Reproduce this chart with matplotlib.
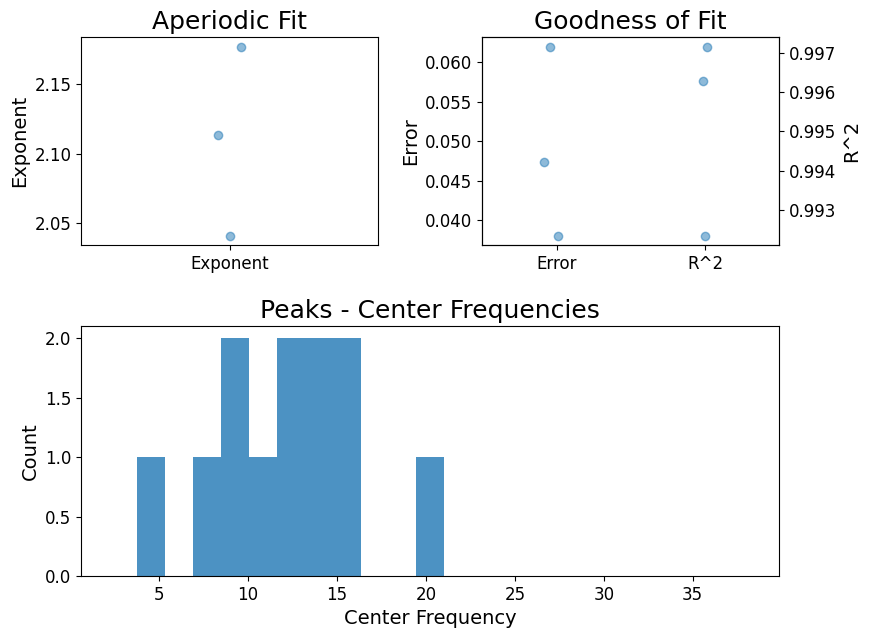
import numpy as np
import matplotlib.pyplot as plt

# aperiodic exponent of each model, with the x jitter
exponents = [2.1773, 2.1137, 2.0406]
exp_jitter = [0.038, -0.040, 0.000]

# goodness of fit
errors = [0.06197, 0.04739, 0.03808]
err_jitter = [-0.044, -0.083, 0.009]
r_squared = [0.99715, 0.99628, 0.99235]
r2_jitter = [0.016, -0.013, -0.002]

# peak center frequencies
center_freqs = [4.5, 7.7, 9.0, 9.6, 10.8, 12.2, 12.9, 13.5, 14.3, 15.2, 15.8, 20.2]
freq_range = (0.62, 39.87)
n_bins = 25

fig = plt.figure(figsize=(8.7, 6.38), dpi=100)

# Aperiodic fit
ax0 = fig.add_axes([0.0935, 0.616, 0.3413, 0.3255])
ax0.scatter(np.zeros(len(exponents)) + exp_jitter, exponents, s=36, alpha=0.5)
ax0.set_ylabel('Exponent', fontsize=14)
ax0.set_xticks([0])
ax0.set_xticklabels(['Exponent'], fontsize=12)
ax0.set_title('Aperiodic Fit', fontsize=18)
ax0.tick_params(axis='both', labelsize=12)
ax0.set_xlim([-0.5, 0.5])

# Goodness of fit, two y axes
ax1 = fig.add_axes([0.5544, 0.616, 0.3413, 0.3255])
ax2 = ax1.twinx()
ax1.scatter(np.zeros(len(errors)) + err_jitter, errors, s=36, alpha=0.5)
ax2.scatter(np.ones(len(r_squared)) + r2_jitter, r_squared, s=36, alpha=0.5)
ax1.set_ylabel('Error', fontsize=14)
ax2.set_ylabel('R^2', fontsize=14)
ax1.set_xticks([0, 1])
ax1.set_xticklabels(['Error', 'R^2'], fontsize=12)
ax1.set_title('Goodness of Fit', fontsize=18)
ax1.tick_params(axis='both', labelsize=12)
ax2.tick_params(axis='y', labelsize=12)
ax1.set_xlim([-0.5, 1.5])

# Peak center frequencies
ax3 = fig.add_axes([0.0935, 0.0972, 0.8022, 0.3914])
ax3.hist(center_freqs, n_bins, range=freq_range, alpha=0.8)
ax3.set_xlabel('Center Frequency', fontsize=14)
ax3.set_ylabel('Count', fontsize=14)
ax3.set_xlim(*freq_range)
ax3.set_title('Peaks - Center Frequencies', fontsize=18)
ax3.tick_params(axis='both', labelsize=12)

plt.savefig('out.png', dpi=100)
